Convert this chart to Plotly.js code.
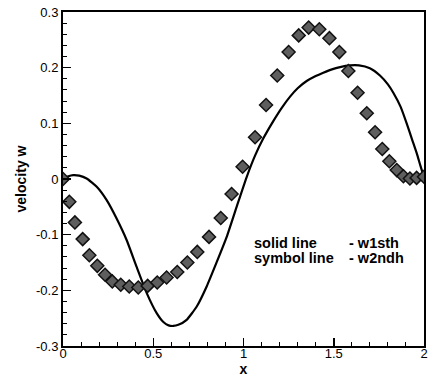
<!DOCTYPE html>
<html>
<head>
<meta charset="utf-8">
<script src="https://cdn.plot.ly/plotly-3.0.1.min.js"></script>
<style>html,body{margin:0;padding:0;background:#fff;}#chart{width:429px;height:378px;}</style>
</head>
<body>
<div id="chart"></div>
<script>
// Solid line: w1sth
const lineX = [0, 0.03, 0.057, 0.09, 0.131, 0.187, 0.242, 0.297, 0.353, 0.408, 0.464, 0.519, 0.556, 0.585, 0.611, 0.639, 0.685, 0.741, 0.796, 0.852, 0.907, 0.962, 1.018, 1.064, 1.110, 1.165, 1.210, 1.258, 1.300, 1.350, 1.400, 1.442, 1.490, 1.535, 1.590, 1.640, 1.700, 1.756, 1.800, 1.830, 1.870, 1.904, 1.935, 1.960, 1.980, 2.0];
const lineY = [0, 0.005, 0.007, 0.006, 0.001, -0.014, -0.038, -0.071, -0.110, -0.158, -0.205, -0.241, -0.257, -0.263, -0.264, -0.262, -0.253, -0.229, -0.193, -0.149, -0.104, -0.050, 0.004, 0.042, 0.073, 0.104, 0.127, 0.148, 0.163, 0.176, 0.185, 0.191, 0.197, 0.201, 0.204, 0.204, 0.199, 0.186, 0.170, 0.155, 0.130, 0.100, 0.070, 0.046, 0.024, 0.003];
// Symbol line: w2ndh
const symX = [0, 0.035, 0.066, 0.109, 0.146, 0.19, 0.233, 0.273, 0.32, 0.367, 0.417, 0.469, 0.522, 0.574, 0.633, 0.689, 0.744, 0.809, 0.874, 0.934, 0.995, 1.064, 1.125, 1.187, 1.250, 1.306, 1.361, 1.420, 1.476, 1.531, 1.581, 1.632, 1.683, 1.729, 1.769, 1.808, 1.849, 1.886, 1.922, 1.959, 2.0];
const symY = [0, -0.041, -0.078, -0.108, -0.137, -0.156, -0.172, -0.184, -0.190, -0.193, -0.195, -0.192, -0.186, -0.177, -0.167, -0.150, -0.131, -0.104, -0.070, -0.027, 0.022, 0.075, 0.133, 0.186, 0.228, 0.258, 0.272, 0.269, 0.253, 0.228, 0.194, 0.155, 0.118, 0.084, 0.054, 0.032, 0.016, 0.005, 0.001, 0.002, 0.004];
const xTickVals = [0, 0.5, 1, 1.5, 2];
const xTickText = ['0', '0.5', '1', '1.5', '2'];
const yTickVals = [-0.3, -0.2, -0.1, 0, 0.1, 0.2, 0.3];
const yTickText = ['-0.3', '-0.2', '-0.1', '0', '0.1', '0.2', '0.3'];

const font = {family: 'Liberation Sans, Arial, sans-serif', size: 13, color: '#000'};
const annFont = {family: 'Liberation Sans, Arial, sans-serif', size: 14.5, color: '#000'};

const traces = [
  {x: lineX, y: lineY, mode: 'lines', line: {color: '#000', width: 2.2, shape: 'spline', smoothing: 0.5}, showlegend: false, hoverinfo: 'skip'},
  {x: symX, y: symY, mode: 'markers', marker: {symbol: 'diamond', size: 10, color: '#5e5e5e', line: {color: '#111', width: 1.5}}, showlegend: false, hoverinfo: 'skip'}
];

const layout = {
  width: 429, height: 378,
  margin: {l: 63, r: 5, t: 12, b: 32},
  paper_bgcolor: '#fff', plot_bgcolor: '#fff',
  font: font,
  xaxis: {
    range: [0, 2], tickvals: xTickVals, ticktext: xTickText,
    ticks: 'inside', ticklen: 8, tickwidth: 1.5, tickcolor: '#000',
    ticklabelstandoff: -6,
    minor: {ticks: 'inside', dtick: 0.1, ticklen: 4, tickwidth: 1, tickcolor: '#000', showgrid: false},
    showgrid: false, zeroline: false, showline: true, linecolor: '#000', linewidth: 2, mirror: true,
    tickfont: font, automargin: false,
    title: {text: '<b>x</b>', font: {family: font.family, size: 14, color: '#000'}, standoff: 4}
  },
  yaxis: {
    range: [-0.3, 0.3], tickvals: yTickVals, ticktext: yTickText,
    ticks: 'inside', ticklen: 8, tickwidth: 1.5, tickcolor: '#000',
    minor: {ticks: 'inside', dtick: 0.02, ticklen: 4, tickwidth: 1, tickcolor: '#000', showgrid: false},
    showgrid: false, zeroline: false, showline: true, linecolor: '#000', linewidth: 2, mirror: true,
    tickfont: font, automargin: false,
    title: {text: '<b>velocity w</b>', font: {family: font.family, size: 14, color: '#000'}, standoff: 6}
  },
  annotations: [
    {x: 252, y: 243, text: '<b>solid line</b>', showarrow: false, xanchor: 'left', yanchor: 'middle', font: annFont},
    {x: 252, y: 258, text: '<b>symbol line</b>', showarrow: false, xanchor: 'left', yanchor: 'middle', font: annFont},
    {x: 347, y: 243, text: '<b>- w1sth</b>', showarrow: false, xanchor: 'left', yanchor: 'middle', font: annFont},
    {x: 347, y: 258, text: '<b>- w2ndh</b>', showarrow: false, xanchor: 'left', yanchor: 'middle', font: annFont}
  ]
};
// convert annotation pixel positions to paper coordinates
const plotW = 429 - 63 - 5, plotH = 378 - 12 - 32;
layout.annotations.forEach(a => {
  a.xref = 'paper'; a.yref = 'paper';
  a.x = (a.x - 63) / plotW;
  a.y = 1 - (a.y - 12) / plotH;
});

Plotly.newPlot('chart', traces, layout, {displayModeBar: false, staticPlot: true});
</script>
</body>
</html>
